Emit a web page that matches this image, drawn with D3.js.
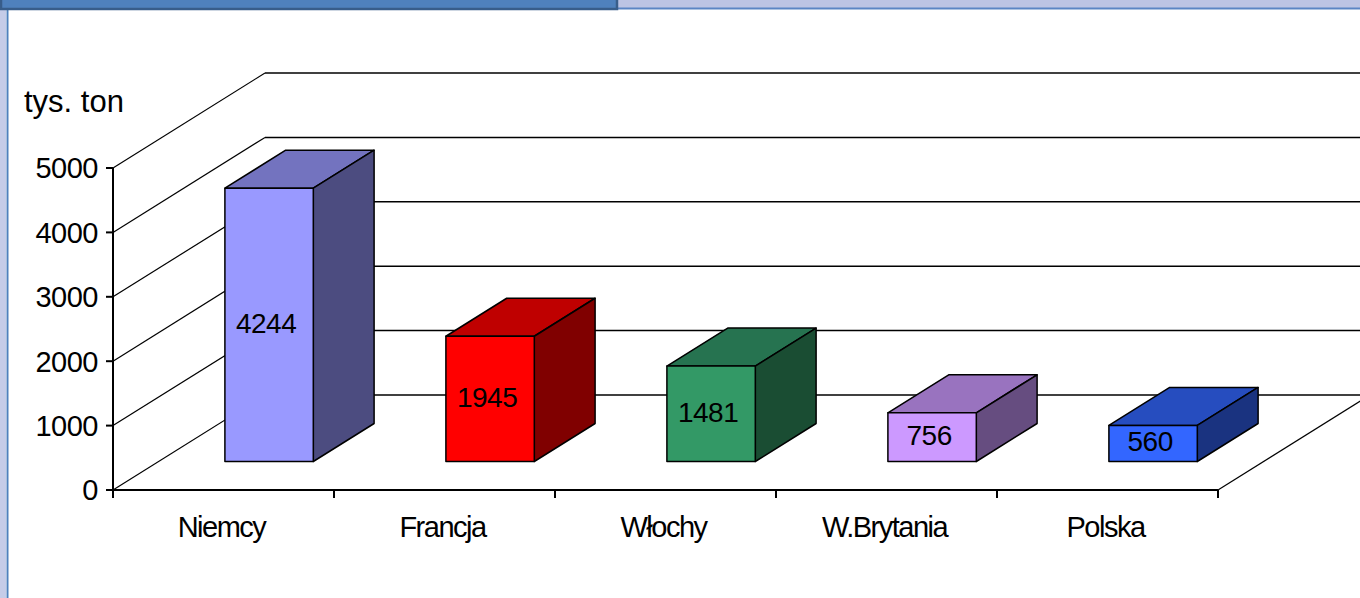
<!DOCTYPE html>
<html>
<head>
<meta charset="utf-8">
<script src="https://cdn.jsdelivr.net/npm/d3@7"></script>
<style>
  body { margin: 0; background: #fff; }
  svg text { font-family: "Liberation Sans", Arial, sans-serif; fill: #000; }
</style>
</head>
<body>
<svg id="chart" width="1360" height="598"></svg>
<script>
// dane
const categories = ["Niemcy", "Francja", "Włochy", "W.Brytania", "Polska"];
const values = [4244, 1945, 1481, 756, 560];
const yTicks = [0, 1000, 2000, 3000, 4000, 5000];
const unitLabel = "tys. ton";

// kolory (przód, góra, bok)
const frontColors = ["#9999FF", "#FF0000", "#339966", "#CC99FF", "#3366FF"];
const topColors = ["#7373BF", "#BF0000", "#267350", "#9973BF", "#264DBF"];
const sideColors = ["#4C4C80", "#800000", "#1A4D33", "#664D80", "#1A3380"];

const svg = d3.select("#chart");

// ramka slajdu
svg.append("rect").attr("x", 0).attr("y", 0).attr("width", 1360).attr("height", 598).attr("fill", "#fff");
svg.append("rect").attr("x", 0).attr("y", 0).attr("width", 1360).attr("height", 8).attr("fill", "#BCC4E4");
svg.append("line").attr("x1", 618).attr("x2", 1360).attr("y1", 8.5).attr("y2", 8.5)
  .attr("stroke", "#5B85C4").attr("stroke-width", 2);
svg.append("rect").attr("x", 0).attr("y", 0).attr("width", 6).attr("height", 598).attr("fill", "#C5CCE8");
svg.append("line").attr("x1", 7.5).attr("x2", 7.5).attr("y1", 0).attr("y2", 598)
  .attr("stroke", "#4F81BD").attr("stroke-width", 2);
svg.append("rect").attr("x", 1).attr("y", -3).attr("width", 616).attr("height", 12)
  .attr("fill", "#4F81BD").attr("stroke", "#385D8A").attr("stroke-width", 2.5);

// skale
const x = d3.scaleBand().domain(categories).range([113, 1218])
  .paddingInner(0.6).paddingOuter(0.3);
const y = d3.scaleLinear().domain([0, 5000]).range([490, 168]);
const z = d3.scaleLinear().domain([0, 1]).range([0, 1]);
const DX = 152, DY = -95;

function proj(px, v, d) {
  return [px + DX * z(d), y(v) + DY * z(d)];
}

const x0 = x.range()[0], x1 = x.range()[1];
const g = svg.append("g");
const line = d3.line();

// ściana lewa - linie siatki
yTicks.forEach((t) => {
  g.append("path").attr("d", line([proj(x0, t, 0), proj(x0, t, 1)]))
    .attr("stroke", "#000").attr("fill", "none").attr("stroke-width", 1.2);
});
// ściana tylna - linie siatki
yTicks.forEach((t) => {
  g.append("path").attr("d", line([proj(x0, t, 1), proj(x1, t, 1)]))
    .attr("stroke", "#000").attr("fill", "none").attr("stroke-width", 1.5);
});
// podłoga - prawa krawędź
g.append("path").attr("d", line([proj(x1, 0, 0), proj(x1, 0, 1)]))
  .attr("stroke", "#000").attr("fill", "none").attr("stroke-width", 1.2);

// słupki
const bz0 = 0.3, bz1 = 0.7;
categories.forEach((c, i) => {
  const xl = x(c), xr = x(c) + x.bandwidth(), v = values[i];
  const bar = g.append("g").attr("stroke", "#000").attr("stroke-width", 1.5).attr("stroke-linejoin", "round");
  bar.append("path").attr("fill", topColors[i])
    .attr("d", line([proj(xl, v, bz0), proj(xl, v, bz1), proj(xr, v, bz1), proj(xr, v, bz0)]) + "Z");
  bar.append("path").attr("fill", sideColors[i])
    .attr("d", line([proj(xr, 0, bz0), proj(xr, v, bz0), proj(xr, v, bz1), proj(xr, 0, bz1)]) + "Z");
  bar.append("path").attr("fill", frontColors[i])
    .attr("d", line([proj(xl, 0, bz0), proj(xl, v, bz0), proj(xr, v, bz0), proj(xr, 0, bz0)]) + "Z");
  const c0 = proj((xl + xr) / 2, v / 2, bz0);
  g.append("text").attr("x", c0[0] - 3).attr("y", c0[1] - 2).attr("dy", "0.35em")
    .attr("text-anchor", "middle").attr("font-size", 28).attr("letter-spacing", -0.5)
    .text(v);
});

// oś wartości
const yAxis = svg.append("g");
yAxis.append("path").attr("d", line([proj(x0, 0, 0), proj(x0, 5000, 0)]))
  .attr("stroke", "#000").attr("stroke-width", 2);
yTicks.forEach((t) => {
  yAxis.append("line").attr("x1", x0 - 7).attr("x2", x0).attr("y1", y(t)).attr("y2", y(t))
    .attr("stroke", "#000").attr("stroke-width", 2);
  yAxis.append("text").attr("x", x0 - 15).attr("y", y(t)).attr("dy", "0.36em")
    .attr("text-anchor", "end").attr("font-size", 29).attr("letter-spacing", -0.5)
    .text(t);
});

// oś kategorii
const xAxis = svg.append("g");
xAxis.append("path").attr("d", line([proj(x0, 0, 0), proj(x1, 0, 0)]))
  .attr("stroke", "#000").attr("stroke-width", 2);
const step = x.step();
d3.range(categories.length + 1).forEach((i) => {
  const tx = x0 + i * step;
  xAxis.append("line").attr("x1", tx).attr("x2", tx).attr("y1", y(0)).attr("y2", y(0) + 8)
    .attr("stroke", "#000").attr("stroke-width", 2);
});
categories.forEach((c) => {
  xAxis.append("text").attr("x", x(c) + x.bandwidth() / 2 - 2).attr("y", y(0) + 47)
    .attr("text-anchor", "middle").attr("font-size", 29).attr("letter-spacing", -1.5)
    .text(c);
});

// jednostka
svg.append("text").attr("x", 24).attr("y", 112).attr("font-size", 31).text(unitLabel);
</script>
</body>
</html>
